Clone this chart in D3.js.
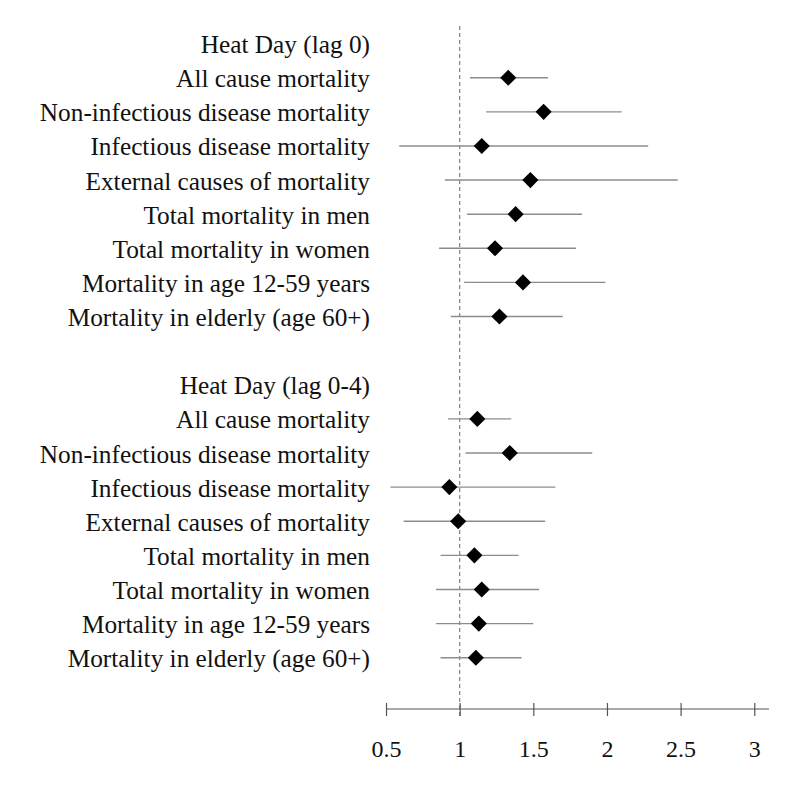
<!DOCTYPE html>
<html><head><meta charset="utf-8">
<script src="https://cdn.jsdelivr.net/npm/d3@7"></script>
<style>html,body{margin:0;padding:0;background:#fff;}</style>
</head><body>
<svg id="chart" width="792" height="785"></svg>
<script>
const groupTitles = ["Heat Day (lag 0)", "Heat Day (lag 0-4)"];
const outcomes = ["All cause mortality","Non-infectious disease mortality","Infectious disease mortality","External causes of mortality","Total mortality in men","Total mortality in women","Mortality in age 12-59 years","Mortality in elderly (age 60+)"];
const lag0Est   = [1.33, 1.57, 1.15, 1.48, 1.38, 1.24, 1.43, 1.27];
const lag0Low   = [1.07, 1.18, 0.59, 0.90, 1.05, 0.86, 1.03, 0.94];
const lag0High  = [1.60, 2.10, 2.28, 2.48, 1.83, 1.79, 1.99, 1.70];
const lag04Est  = [1.12, 1.34, 0.93, 0.99, 1.10, 1.15, 1.13, 1.11];
const lag04Low  = [0.92, 1.04, 0.53, 0.62, 0.87, 0.84, 0.84, 0.87];
const lag04High = [1.35, 1.90, 1.65, 1.58, 1.40, 1.54, 1.50, 1.42];
const xTicks = [0.5, 1, 1.5, 2, 2.5, 3];

const rows = [];
rows.push({label: groupTitles[0], header: true});
outcomes.forEach((o,i)=>rows.push({label:o, est:lag0Est[i], lo:lag0Low[i], hi:lag0High[i]}));
rows.push({label: "", blank: true});
rows.push({label: groupTitles[1], header: true});
outcomes.forEach((o,i)=>rows.push({label:o, est:lag04Est[i], lo:lag04Low[i], hi:lag04High[i]}));

const svg = d3.select("#chart");
const x = d3.scaleLinear().domain([0.5, 3.1]).range([386, 769]);
const y = d3.scaleLinear().domain([0, rows.length - 1]).range([43.6, 657.7]);
const axisY = 709;
const font = "'Liberation Serif', 'Times New Roman', serif";

// reference line at 1
svg.append("line")
  .attr("x1", x(1)).attr("x2", x(1))
  .attr("y1", 26).attr("y2", 716)
  .attr("stroke", "#8a8a8a").attr("stroke-width", 1.3)
  .attr("stroke-dasharray", "4,3");

// labels
svg.append("g").selectAll("text").data(rows.filter(r=>!r.blank)).join("text")
  .attr("x", 370)
  .attr("y", (d)=>y(rows.indexOf(d)) + 9.5)
  .attr("text-anchor", "end")
  .attr("font-family", font)
  .attr("font-size", 25.3)
  .attr("fill", "#111")
  .text(d=>d.label);

const data = rows.filter(r=>r.est !== undefined);
// CI lines
svg.append("g").selectAll("line").data(data).join("line")
  .attr("x1", d=>x(d.lo)).attr("x2", d=>x(d.hi))
  .attr("y1", d=>y(rows.indexOf(d))).attr("y2", d=>y(rows.indexOf(d)))
  .attr("stroke", "#8c8c8c").attr("stroke-width", 1.4);

// diamonds
const sym = d3.symbol().type(d3.symbolSquare).size(130);
svg.append("g").selectAll("path").data(data).join("path")
  .attr("d", sym)
  .attr("transform", d=>`translate(${x(d.est)},${y(rows.indexOf(d))}) rotate(45)`)
  .attr("fill", "#000");

// axis
const axis = d3.axisBottom(x).tickValues(xTicks).tickSize(0).tickFormat(d3.format("~g"));
const g = svg.append("g").attr("transform", `translate(0,${axisY})`).call(axis);
g.select(".domain").attr("stroke", "#8c8c8c").attr("stroke-width", 1.4).attr("d", `M${x(0.5)},0H${x(3.1)}`);
g.selectAll(".tick line").remove();
g.selectAll(".tick").append("line").attr("y1", -6).attr("y2", 7).attr("stroke", "#555").attr("stroke-width", 1.2);
g.selectAll(".tick text").attr("y", 48).attr("dy", 0)
  .attr("font-family", font).attr("font-size", 24).attr("fill", "#111");
</script>
</body></html>
